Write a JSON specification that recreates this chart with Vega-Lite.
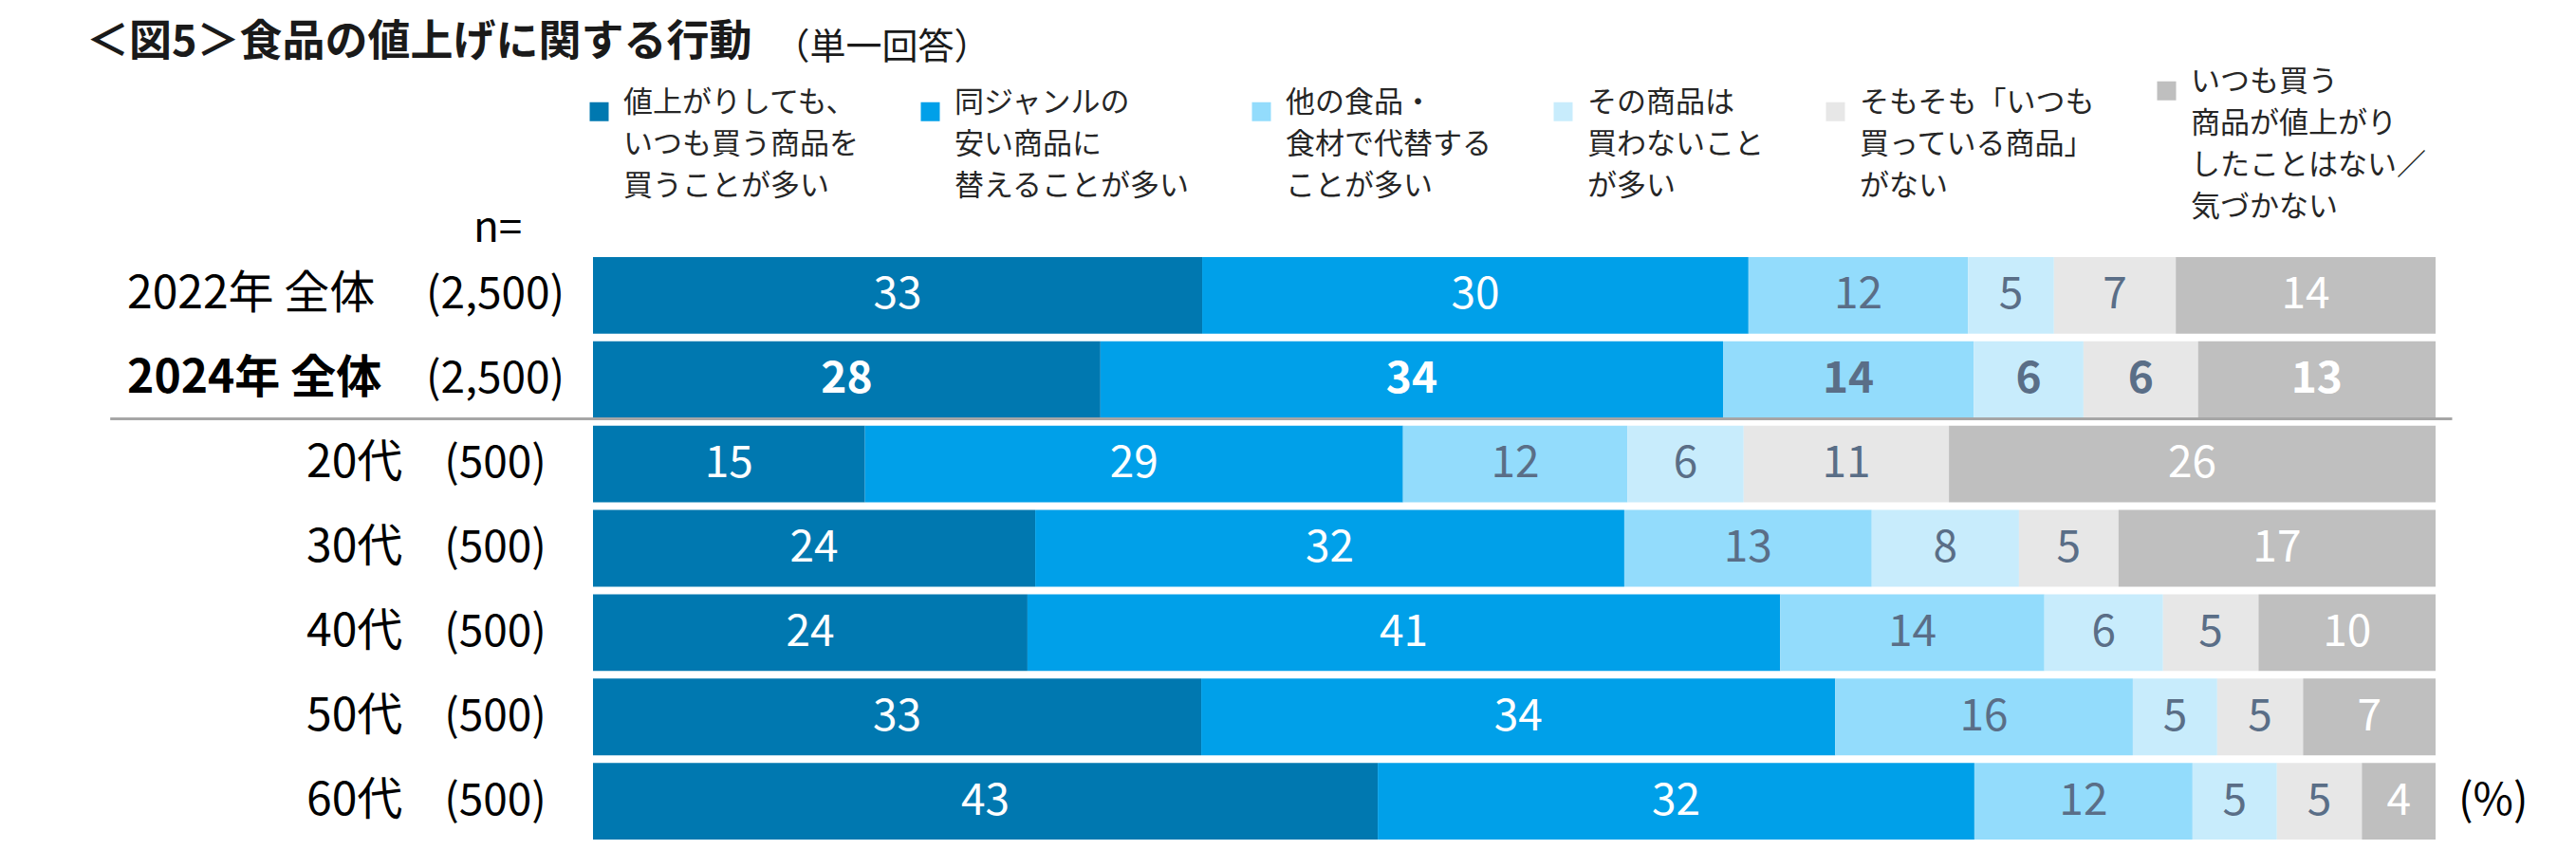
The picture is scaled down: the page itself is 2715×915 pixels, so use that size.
{
  "$schema": "https://vega.github.io/schema/vega-lite/v6.json",
  "width": 1942,
  "height": 622,
  "autosize": {"type": "none"},
  "padding": {"top": 267, "left": 625, "right": 148, "bottom": 26},
  "background": "white",
  "title": {"text": "＜図5＞食品の値上げに関する行動", "anchor": "start", "frame": "group", "dx": -534, "dy": 37, "offset": 0, "fontSize": 45, "fontWeight": "bold", "color": "#1a1a1a"},
  "data": {"values": [
    {"g": "2022年 全体", "n": "(2,500)", "i": 1, "k": "値上がりしても、\nいつも買う商品を\n買うことが多い", "v": 33.06},
    {"g": "2022年 全体", "n": "(2,500)", "i": 2, "k": "同ジャンルの\n安い商品に\n替えることが多い", "v": 29.65},
    {"g": "2022年 全体", "n": "(2,500)", "i": 3, "k": "他の食品・\n食材で代替する\nことが多い", "v": 11.92},
    {"g": "2022年 全体", "n": "(2,500)", "i": 4, "k": "その商品は\n買わないこと\nが多い", "v": 4.66},
    {"g": "2022年 全体", "n": "(2,500)", "i": 5, "k": "そもそも「いつも\n買っている商品」\nがない", "v": 6.61},
    {"g": "2022年 全体", "n": "(2,500)", "i": 6, "k": "いつも買う\n商品が値上がり\nしたことはない／\n気づかない", "v": 14.10},
    {"g": "2024年 全体", "n": "(2,500)", "i": 1, "k": "値上がりしても、\nいつも買う商品を\n買うことが多い", "v": 27.54},
    {"g": "2024年 全体", "n": "(2,500)", "i": 2, "k": "同ジャンルの\n安い商品に\n替えることが多い", "v": 33.79},
    {"g": "2024年 全体", "n": "(2,500)", "i": 3, "k": "他の食品・\n食材で代替する\nことが多い", "v": 13.60},
    {"g": "2024年 全体", "n": "(2,500)", "i": 4, "k": "その商品は\n買わないこと\nが多い", "v": 5.96},
    {"g": "2024年 全体", "n": "(2,500)", "i": 5, "k": "そもそも「いつも\n買っている商品」\nがない", "v": 6.22},
    {"g": "2024年 全体", "n": "(2,500)", "i": 6, "k": "いつも買う\n商品が値上がり\nしたことはない／\n気づかない", "v": 12.89},
    {"g": "20代", "n": "(500)", "i": 1, "k": "値上がりしても、\nいつも買う商品を\n買うことが多い", "v": 14.76},
    {"g": "20代", "n": "(500)", "i": 2, "k": "同ジャンルの\n安い商品に\n替えることが多い", "v": 29.20},
    {"g": "20代", "n": "(500)", "i": 3, "k": "他の食品・\n食材で代替する\nことが多い", "v": 12.18},
    {"g": "20代", "n": "(500)", "i": 4, "k": "その商品は\n買わないこと\nが多い", "v": 6.31},
    {"g": "20代", "n": "(500)", "i": 5, "k": "そもそも「いつも\n買っている商品」\nがない", "v": 11.14},
    {"g": "20代", "n": "(500)", "i": 6, "k": "いつも買う\n商品が値上がり\nしたことはない／\n気づかない", "v": 26.41},
    {"g": "30代", "n": "(500)", "i": 1, "k": "値上がりしても、\nいつも買う商品を\n買うことが多い", "v": 24.00},
    {"g": "30代", "n": "(500)", "i": 2, "k": "同ジャンルの\n安い商品に\n替えることが多い", "v": 31.97},
    {"g": "30代", "n": "(500)", "i": 3, "k": "他の食品・\n食材で代替する\nことが多い", "v": 13.43},
    {"g": "30代", "n": "(500)", "i": 4, "k": "その商品は\n買わないこと\nが多い", "v": 7.99},
    {"g": "30代", "n": "(500)", "i": 5, "k": "そもそも「いつも\n買っている商品」\nがない", "v": 5.40},
    {"g": "30代", "n": "(500)", "i": 6, "k": "いつも買う\n商品が値上がり\nしたことはない／\n気づかない", "v": 17.21},
    {"g": "40代", "n": "(500)", "i": 1, "k": "値上がりしても、\nいつも買う商品を\n買うことが多い", "v": 23.58},
    {"g": "40代", "n": "(500)", "i": 2, "k": "同ジャンルの\n安い商品に\n替えることが多い", "v": 40.85},
    {"g": "40代", "n": "(500)", "i": 3, "k": "他の食品・\n食材で代替する\nことが多い", "v": 14.34},
    {"g": "40代", "n": "(500)", "i": 4, "k": "その商品は\n買わないこと\nが多い", "v": 6.44},
    {"g": "40代", "n": "(500)", "i": 5, "k": "そもそも「いつも\n買っている商品」\nがない", "v": 5.18},
    {"g": "40代", "n": "(500)", "i": 6, "k": "いつも買う\n商品が値上がり\nしたことはない／\n気づかない", "v": 9.61},
    {"g": "50代", "n": "(500)", "i": 1, "k": "値上がりしても、\nいつも買う商品を\n買うことが多い", "v": 33.01},
    {"g": "50代", "n": "(500)", "i": 2, "k": "同ジャンルの\n安い商品に\n替えることが多い", "v": 34.41},
    {"g": "50代", "n": "(500)", "i": 3, "k": "他の食品・\n食材で代替する\nことが多い", "v": 16.15},
    {"g": "50代", "n": "(500)", "i": 4, "k": "その商品は\n買わないこと\nが多い", "v": 4.58},
    {"g": "50代", "n": "(500)", "i": 5, "k": "そもそも「いつも\n買っている商品」\nがない", "v": 4.66},
    {"g": "50代", "n": "(500)", "i": 6, "k": "いつも買う\n商品が値上がり\nしたことはない／\n気づかない", "v": 7.19},
    {"g": "60代", "n": "(500)", "i": 1, "k": "値上がりしても、\nいつも買う商品を\n買うことが多い", "v": 42.59},
    {"g": "60代", "n": "(500)", "i": 2, "k": "同ジャンルの\n安い商品に\n替えることが多い", "v": 32.38},
    {"g": "60代", "n": "(500)", "i": 3, "k": "他の食品・\n食材で代替する\nことが多い", "v": 11.84},
    {"g": "60代", "n": "(500)", "i": 4, "k": "その商品は\n買わないこと\nが多い", "v": 4.58},
    {"g": "60代", "n": "(500)", "i": 5, "k": "そもそも「いつも\n買っている商品」\nがない", "v": 4.61},
    {"g": "60代", "n": "(500)", "i": 6, "k": "いつも買う\n商品が値上がり\nしたことはない／\n気づかない", "v": 4.00}
  ]},
  "layer": [
    {
      "mark": {"type": "bar"},
      "encoding": {
        "y": {"field": "g", "type": "nominal", "sort": ["2022年 全体", "2024年 全体", "20代", "30代", "40代", "50代", "60代"],
          "scale": {"domain": ["2022年 全体", "2024年 全体", "20代", "30代", "40代", "50代", "60代"], "paddingInner": 0.09, "paddingOuter": 0.045},
          "axis": {"title": "n=", "titleAngle": 0, "titleX": -101, "titleY": -26, "titleAlign": "center", "titleBaseline": "middle", "titleFontSize": 44, "titleFontWeight": "normal", "titleColor": "#000000",
            "labels": false, "ticks": false, "domain": false, "grid": false}},
        "x": {"field": "v", "type": "quantitative", "stack": "zero", "scale": {"domain": [0, 100], "nice": false, "zero": true},
          "axis": {"orient": "top", "labels": false, "ticks": false, "domain": false, "grid": false, "title": "（単一回答）", "titleX": 190, "titleY": -217, "titleAlign": "left", "titleBaseline": "middle", "titleFontSize": 38, "titleFontWeight": "normal", "titleColor": "#1a1a1a"}},
        "order": {"field": "i", "type": "quantitative", "sort": "ascending"},
        "color": {"field": "k", "type": "nominal",
          "scale": {"domain": ["値上がりしても、\nいつも買う商品を\n買うことが多い", "同ジャンルの\n安い商品に\n替えることが多い", "他の食品・\n食材で代替する\nことが多い", "その商品は\n買わないこと\nが多い", "そもそも「いつも\n買っている商品」\nがない", "いつも買う\n商品が値上がり\nしたことはない／\n気づかない"],
            "range": ["#0078B0", "#00A0E9", "#93DCFC", "#C8ECFC", "#E7E7E7", "#BFBFBF"]},
          "legend": {"orient": "none", "legendX": -9, "legendY": -187, "direction": "horizontal", "columns": 6, "title": null, "padding": 0,
            "symbolType": "square", "symbolSize": 400, "symbolStrokeWidth": 0, "labelFontSize": 31, "labelColor": "#262626", "labelOffset": 10, "columnPadding": 60, "labelLimit": 600,
            "labelBaseline": "alphabetic", "labelExpr": "split(datum.label, '\\n')"}}
      }
    },
    {
      "data": {"values": [{}]},
      "mark": {"type": "rule", "color": "#A6A6A6", "strokeWidth": 3},
      "encoding": {
        "x": {"datum": -26.2, "type": "quantitative"},
        "x2": {"datum": 100.9},
        "y": {"datum": "2024年 全体", "type": "nominal", "bandPosition": 1.01}
      }
    },
    {
      "transform": [{"filter": "datum.g !== '2024年 全体'"}],
      "mark": {"type": "text", "fontSize": 46, "align": "center", "baseline": "middle"},
      "encoding": {
        "y": {"field": "g", "type": "nominal", "sort": ["2022年 全体", "2024年 全体", "20代", "30代", "40代", "50代", "60代"]},
        "x": {"field": "v", "type": "quantitative", "stack": "zero", "bandPosition": 0.5},
        "order": {"field": "i", "type": "quantitative", "sort": "ascending"},
        "text": {"field": "v", "format": ".0f"},
        "color": {"field": "k", "type": "nominal",
          "scale": {"domain": ["値上がりしても、\nいつも買う商品を\n買うことが多い", "同ジャンルの\n安い商品に\n替えることが多い", "他の食品・\n食材で代替する\nことが多い", "その商品は\n買わないこと\nが多い", "そもそも「いつも\n買っている商品」\nがない", "いつも買う\n商品が値上がり\nしたことはない／\n気づかない"],
            "range": ["#FFFFFF", "#FFFFFF", "#5A6E87", "#5A6E87", "#5A6E87", "#FFFFFF"]},
          "legend": null}
      }
    },
    {
      "transform": [{"filter": "datum.g === '2024年 全体'"}],
      "mark": {"type": "text", "fontSize": 46, "fontWeight": "bold", "align": "center", "baseline": "middle"},
      "encoding": {
        "y": {"field": "g", "type": "nominal", "sort": ["2022年 全体", "2024年 全体", "20代", "30代", "40代", "50代", "60代"]},
        "x": {"field": "v", "type": "quantitative", "stack": "zero", "bandPosition": 0.5},
        "order": {"field": "i", "type": "quantitative", "sort": "ascending"},
        "text": {"field": "v", "format": ".0f"},
        "color": {"field": "k", "type": "nominal",
          "scale": {"domain": ["値上がりしても、\nいつも買う商品を\n買うことが多い", "同ジャンルの\n安い商品に\n替えることが多い", "他の食品・\n食材で代替する\nことが多い", "その商品は\n買わないこと\nが多い", "そもそも「いつも\n買っている商品」\nがない", "いつも買う\n商品が値上がり\nしたことはない／\n気づかない"],
            "range": ["#FFFFFF", "#FFFFFF", "#5A6E87", "#5A6E87", "#5A6E87", "#FFFFFF"]},
          "legend": null}
      }
    },
    {
      "transform": [{"filter": "datum.i === 1"}],
      "mark": {"type": "text", "fontSize": 46, "align": "center", "baseline": "middle", "color": "#000000"},
      "encoding": {
        "y": {"field": "g", "type": "nominal", "sort": ["2022年 全体", "2024年 全体", "20代", "30代", "40代", "50代", "60代"]},
        "x": {"datum": -5.3, "type": "quantitative"},
        "text": {"field": "n"}
      }
    },
    {
      "transform": [{"filter": "datum.i === 1 && datum.g === '2022年 全体'"}],
      "mark": {"type": "text", "fontSize": 48, "align": "left", "baseline": "middle", "color": "#000000"},
      "encoding": {
        "y": {"field": "g", "type": "nominal", "sort": ["2022年 全体", "2024年 全体", "20代", "30代", "40代", "50代", "60代"]},
        "x": {"datum": -25.28, "type": "quantitative"},
        "text": {"field": "g"}
      }
    },
    {
      "transform": [{"filter": "datum.i === 1 && datum.g === '2024年 全体'"}],
      "mark": {"type": "text", "fontSize": 48, "fontWeight": "bold", "align": "left", "baseline": "middle", "color": "#000000"},
      "encoding": {
        "y": {"field": "g", "type": "nominal", "sort": ["2022年 全体", "2024年 全体", "20代", "30代", "40代", "50代", "60代"]},
        "x": {"datum": -25.28, "type": "quantitative"},
        "text": {"field": "g"}
      }
    },
    {
      "transform": [{"filter": "datum.i === 1 && indexof(datum.g, '全体') < 0"}],
      "mark": {"type": "text", "fontSize": 48, "align": "left", "baseline": "middle", "color": "#000000"},
      "encoding": {
        "y": {"field": "g", "type": "nominal", "sort": ["2022年 全体", "2024年 全体", "20代", "30代", "40代", "50代", "60代"]},
        "x": {"datum": -15.55, "type": "quantitative"},
        "text": {"field": "g"}
      }
    },
    {
      "data": {"values": [{}]},
      "mark": {"type": "text", "fontSize": 46, "align": "left", "baseline": "middle", "dx": 24, "color": "#000000"},
      "encoding": {
        "x": {"datum": 100, "type": "quantitative"},
        "y": {"datum": "60代", "type": "nominal"},
        "text": {"value": "(%)"}
      }
    }
  ],
  "resolve": {"scale": {"color": "independent"}},
  "config": {
    "font": "Noto Sans CJK JP",
    "view": {"stroke": null},
    "style": {"guide-label": {"lineHeight": 44}}
  }
}
